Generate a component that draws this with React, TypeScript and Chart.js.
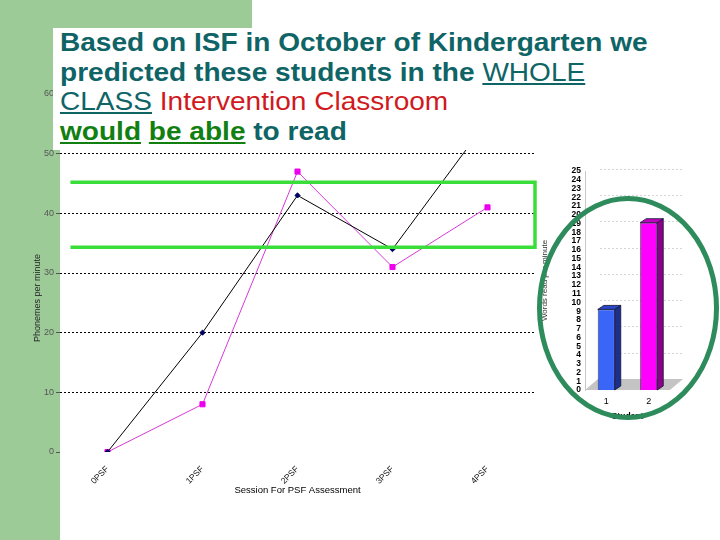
import React, { useEffect, useRef } from "react";
import { Chart, registerables } from "chart.js";

Chart.register(...registerables);

const FONT = "'Liberation Sans', Arial, Helvetica, sans-serif";

// ---- line chart data ----
const sessions = ["0PSF", "1PSF", "2PSF", "3PSF", "4PSF"];
const student1Scores = [0, 20, 43, 34, 55.5];
const student2Scores = [0, 8, 47, 31, 41];
const phonemeTicks = [0, 10, 20, 30, 40, 50, 60];
const targetBand = [34.3, 45.2]; // low, high (phonemes per minute)
const targetBandSpan = [-0.39, 4.5]; // category-index extent of the band

// ---- bar chart data ----
const students = ["1", "2"];
const wordsPerMinute = [9.2, 19.1];
const barFront = ["#3a66f7", "#ff00ff"];
const barSide = ["#1d2f8c", "#8a008a"];
const barTop = ["#2a48c8", "#c000c0"];
const barGridValues = [3, 6, 9, 12, 15, 18, 21, 24];

const GREEN_BG = "#9ccb98";
const TEAL = "#0f6466";
const RED = "#d01a1e";
const DARK_GREEN = "#118011";

const bandPlugin = {
  id: "targetBand",
  afterDatasetsDraw(chart: any) {
    const { ctx, chartArea, scales } = chart;
    const x0 = scales.x.getPixelForValue(0);
    const x1 = scales.x.getPixelForValue(1);
    const step = x1 - x0;
    const left = x0 + targetBandSpan[0] * step;
    const right = Math.min(x0 + targetBandSpan[1] * step, chartArea.right);
    const yLow = scales.y.getPixelForValue(targetBand[0]);
    const yHigh = scales.y.getPixelForValue(targetBand[1]);
    ctx.save();
    ctx.strokeStyle = "#3ade3a";
    ctx.lineWidth = 3.5;
    ctx.lineJoin = "miter";
    ctx.beginPath();
    ctx.moveTo(left, yHigh);
    ctx.lineTo(right, yHigh);
    ctx.lineTo(right, yLow);
    ctx.lineTo(left, yLow);
    ctx.stroke();
    ctx.restore();
  },
};

const threeDPlugin = {
  id: "threeD",
  beforeDatasetsDraw(chart: any) {
    const { ctx, chartArea, scales } = chart;
    const base = scales.y.getPixelForValue(0);
    const fdx = 13;
    const fdy = 11;
    ctx.save();
    ctx.fillStyle = "#c4c4c4";
    ctx.beginPath();
    ctx.moveTo(chartArea.left, base);
    ctx.lineTo(chartArea.left + fdx, base - fdy);
    ctx.lineTo(chartArea.right + fdx, base - fdy);
    ctx.lineTo(chartArea.right, base);
    ctx.closePath();
    ctx.fill();
    ctx.strokeStyle = "#d6d6d6";
    ctx.setLineDash([2, 2]);
    ctx.lineWidth = 1;
    barGridValues.forEach((v) => {
      const y = Math.round(scales.y.getPixelForValue(v) - fdy) + 0.5;
      ctx.beginPath();
      ctx.moveTo(chartArea.left + fdx + 2, y);
      ctx.lineTo(chartArea.right + fdx, y);
      ctx.stroke();
    });
    ctx.restore();
  },
  afterDatasetsDraw(chart: any) {
    const { ctx } = chart;
    const dx = 6;
    const dy = 4;
    const meta = chart.getDatasetMeta(0);
    meta.data.forEach((bar: any, i: number) => {
      const { x, y, base, width } = bar.getProps(["x", "y", "base", "width"], true);
      const l = x - width / 2;
      const r = x + width / 2;
      ctx.save();
      ctx.strokeStyle = "#101030";
      ctx.lineWidth = 0.8;
      ctx.fillStyle = barSide[i];
      ctx.beginPath();
      ctx.moveTo(r, y);
      ctx.lineTo(r + dx, y - dy);
      ctx.lineTo(r + dx, base - dy);
      ctx.lineTo(r, base);
      ctx.closePath();
      ctx.fill();
      ctx.stroke();
      ctx.fillStyle = barTop[i];
      ctx.beginPath();
      ctx.moveTo(l, y);
      ctx.lineTo(l + dx, y - dy);
      ctx.lineTo(r + dx, y - dy);
      ctx.lineTo(r, y);
      ctx.closePath();
      ctx.fill();
      ctx.stroke();
      ctx.restore();
    });
  },
  afterDraw(chart: any) {
    const { ctx, chartArea } = chart;
    const cx = chartArea.left + 43;
    const cy = chartArea.top + 137;
    ctx.save();
    ctx.strokeStyle = "#2e8b5c";
    ctx.lineWidth = 5;
    ctx.beginPath();
    ctx.ellipse(cx, cy, 88.5, 109.5, 0, 0, Math.PI * 2);
    ctx.stroke();
    ctx.restore();
  },
};

export default function App() {
  const lineRef = useRef<HTMLCanvasElement>(null);
  const barRef = useRef<HTMLCanvasElement>(null);

  useEffect(() => {
    Chart.defaults.font.family = FONT;
    const lineChart = new Chart(lineRef.current as HTMLCanvasElement, {
      type: "line",
      data: {
        labels: sessions,
        datasets: [
          {
            label: "Student 1",
            data: student1Scores,
            borderColor: "#000000",
            borderWidth: 1,
            pointStyle: "rectRot",
            pointRadius: 2.6,
            pointBackgroundColor: "#000060",
            pointBorderColor: "#000060",
            tension: 0,
          },
          {
            label: "Student 2",
            data: student2Scores,
            borderColor: "#d838d8",
            borderWidth: 1,
            pointStyle: "rect",
            pointRadius: 3.6,
            pointBackgroundColor: "#ee00ee",
            pointBorderColor: "#ee00ee",
            tension: 0,
          },
        ],
      },
      options: {
        animation: false,
        responsive: false,
        maintainAspectRatio: false,
        layout: { padding: { left: 0, right: 10, top: 94, bottom: 41 } },
        plugins: { legend: { display: false }, tooltip: { enabled: false } },
        scales: {
          x: {
            offset: true,
            grid: { display: false, drawTicks: false },
            border: { display: false },
            ticks: {
              minRotation: 45,
              maxRotation: 45,
              padding: 12,
              color: "#111",
              font: { size: 8.5, family: FONT },
            },
            title: {
              display: true,
              text: "Session For PSF Assessment",
              color: "#000",
              font: { size: 9.5, family: FONT },
              padding: { top: 0, bottom: 3 },
            },
            afterFit: (s: any) => {
              s.height = 47;
            },
          },
          y: {
            min: 0,
            max: 60,
            afterBuildTicks: (s: any) => {
              s.ticks = phonemeTicks.map((v) => ({ value: v }));
            },
            ticks: { padding: 2, color: "#555", font: { size: 9, family: FONT } },
            grid: {
              color: (c: any) => (c.tick && c.tick.value === 0 ? "rgba(0,0,0,0)" : "#000"),
              tickLength: 4,
              tickColor: "#555",
              lineWidth: 1,
            },
            border: { display: false, dash: [2, 2] },
            afterFit: (s: any) => {
              s.width = 60;
            },
          },
        },
      },
      plugins: [bandPlugin],
    } as any);

    const barChart = new Chart(barRef.current as HTMLCanvasElement, {
      type: "bar",
      data: {
        labels: students,
        datasets: [
          {
            label: "Words read per minute",
            data: wordsPerMinute,
            backgroundColor: barFront,
            borderColor: "#101030",
            borderWidth: 0.8,
            barPercentage: 0.4,
            categoryPercentage: 1,
          },
        ],
      },
      options: {
        animation: false,
        responsive: false,
        maintainAspectRatio: false,
        layout: { padding: { left: 0, right: 50, top: 21, bottom: 8 } },
        plugins: { legend: { display: false }, tooltip: { enabled: false } },
        scales: {
          x: {
            grid: { display: false, drawTicks: false },
            border: { display: false },
            ticks: { padding: 6, color: "#000", font: { size: 9, family: FONT } },
            title: {
              display: true,
              text: "Student",
              color: "#000",
              font: { size: 8.5, weight: "bold", family: FONT },
              padding: { top: 2, bottom: 0 },
            },
            afterFit: (s: any) => {
              s.height = 32;
            },
          },
          y: {
            min: 0,
            max: 25,
            ticks: {
              stepSize: 1,
              autoSkip: false,
              padding: 4,
              color: "#000",
              font: { size: 8.5, weight: "bold", family: FONT },
            },
            grid: { display: false, drawTicks: false },
            border: { display: true, color: "#c8c8c8" },
            title: {
              display: true,
              text: "Words read per minute",
              color: "#333",
              font: { size: 8, family: FONT },
              padding: { top: 10, bottom: 0 },
            },
            afterFit: (s: any) => {
              s.width = 55;
            },
          },
        },
      },
      plugins: [threeDPlugin],
    } as any);

    return () => {
      lineChart.destroy();
      barChart.destroy();
    };
  }, []);

  const title: React.CSSProperties = {
    position: "absolute",
    left: 7,
    top: 0,
    fontFamily: FONT,
    fontWeight: "bold",
    fontSize: "25.5px",
    lineHeight: "29.5px",
    color: TEAL,
    whiteSpace: "nowrap",
    transform: "scaleX(1.1)",
    transformOrigin: "0 0",
  };
  const thin: React.CSSProperties = { fontWeight: "normal", textDecoration: "underline" };

  return (
    <div
      style={{
        position: "fixed",
        left: 0,
        top: 0,
        width: 720,
        height: 540,
        background: "#ffffff",
        overflow: "hidden",
      }}
    >
      <div style={{ position: "absolute", left: 0, top: 0, width: 60, height: 540, background: GREEN_BG }} />
      <div style={{ position: "absolute", left: 0, top: 0, width: 252, height: 28, background: GREEN_BG }} />
      <canvas
        ref={lineRef}
        width={545}
        height={540}
        style={{ position: "absolute", left: 0, top: 0, display: "block" }}
      />
      <canvas
        ref={barRef}
        width={190}
        height={280}
        style={{ position: "absolute", left: 530, top: 150, display: "block" }}
      />
      <div
        style={{
          position: "absolute",
          left: 37,
          top: 298,
          transform: "translate(-50%, -50%) rotate(-90deg)",
          fontFamily: FONT,
          fontSize: "9px",
          color: "#222",
          whiteSpace: "nowrap",
        }}
      >
        Phonemes per minute
      </div>
      <div style={{ position: "absolute", left: 53, top: 28, width: 610, height: 122, background: "#ffffff" }}>
        <div style={title}>
          <div>Based on ISF in October of Kindergarten we</div>
          <div>
            predicted these students in the <span style={thin}>WHOLE</span>
          </div>
          <div>
            <span style={thin}>CLASS</span>
            <span style={{ fontWeight: "normal", color: RED }}> Intervention Classroom</span>
          </div>
          <div>
            <span style={{ color: DARK_GREEN, textDecoration: "underline" }}>would</span>{" "}
            <span style={{ color: DARK_GREEN, textDecoration: "underline" }}>be able</span> to read
          </div>
        </div>
      </div>
    </div>
  );
}
